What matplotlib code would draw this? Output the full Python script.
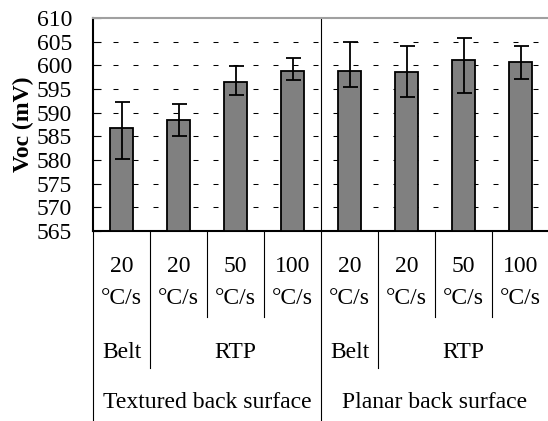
import matplotlib
matplotlib.use("Agg")
import matplotlib.pyplot as plt
import matplotlib.transforms as mtransforms
import numpy as np

plt.rcParams['font.family'] = ['Liberation Serif', 'DejaVu Serif']
plt.rcParams['lines.scale_dashes'] = False

# ---- data ----
rates = ['20', '20', '50', '100', '20', '20', '50', '100']
rate_unit = '°C/s'
methods = ['Belt', 'RTP', 'Belt', 'RTP']
method_spans = [(0, 0), (1, 3), (4, 4), (5, 7)]
surfaces = ['Textured back surface', 'Planar back surface']
surface_spans = [(0, 3), (4, 7)]
voc = [586.8, 588.5, 596.5, 598.9, 598.9, 598.6, 601.1, 600.7]
voc_high = [592.2, 591.8, 599.8, 601.5, 604.9, 604.1, 605.8, 604.1]
voc_low = [580.3, 585.0, 593.8, 596.9, 595.5, 593.4, 594.2, 597.2]
yticks = [565, 570, 575, 580, 585, 590, 595, 600, 605, 610]

FS = 17
W, H = 548, 421
fig = plt.figure(figsize=(W / 100, H / 100), dpi=100)
ax = fig.add_axes([93 / W, 1 - 231 / H, (549 - 93) / W, (231 - 18) / H])

x = np.arange(len(voc))
voc_a = np.array(voc)
yerr = np.array([voc_a - np.array(voc_low), np.array(voc_high) - voc_a])

# gridlines
for t in yticks[1:-1]:
    ax.axhline(t, color='black', lw=0.75, linestyle=(0, (3.6, 10.8)), zorder=1)

ax.bar(x, voc_a - 565, bottom=565, width=0.42, color='#808080',
       edgecolor='black', linewidth=1.3, zorder=3)
ax.errorbar(x, voc_a, yerr=yerr, fmt='none', ecolor='black', elinewidth=1.3,
            capsize=5.4, capthick=1.3, zorder=4)

ax.axvline(3.5, color='black', lw=0.8, zorder=2)

ax.set_xlim(-0.5, 7.5)
ax.set_ylim(565, 610)
ax.set_yticks(yticks)
ax.set_yticklabels([str(t) for t in yticks], fontsize=FS)
ax.set_xticks([])
ax.tick_params(axis='y', direction='in', length=6, width=0.8, pad=15)
ax.spines['right'].set_visible(False)
ax.spines['top'].set_color('#a0a0a0')
ax.spines['top'].set_linewidth(1.5)
ax.spines['left'].set_linewidth(1.5)
ax.spines['bottom'].set_linewidth(1.5)
ax.set_ylabel('Voc (mV)', fontsize=FS, fontweight='bold', labelpad=2)

trans = mtransforms.blended_transform_factory(ax.transData, fig.transFigure)

def fy(px):
    return 1 - px / H

# separators
for b in np.arange(-0.5, 7.5, 1.0):
    if b in (-0.5, 3.5):
        yb = H
    elif b in (0.5, 4.5):
        yb = 368
    else:
        yb = 317
    ax.plot([b, b], [fy(231), fy(yb)], transform=trans, clip_on=False,
            color='black', lw=0.8)

for i, r in enumerate(rates):
    ax.text(i, fy(267), r, transform=trans, ha='center', va='center', fontsize=FS)
    ax.text(i, fy(298), rate_unit, transform=trans, ha='center', va='center', fontsize=FS)

for m, (a, b) in zip(methods, method_spans):
    ax.text((a + b) / 2, fy(352), m, transform=trans, ha='center', va='center', fontsize=FS)

for s, (a, b) in zip(surfaces, surface_spans):
    ax.text((a + b) / 2, fy(402), s, transform=trans, ha='center', va='center', fontsize=FS)

fig.savefig('out.png', dpi=100)
